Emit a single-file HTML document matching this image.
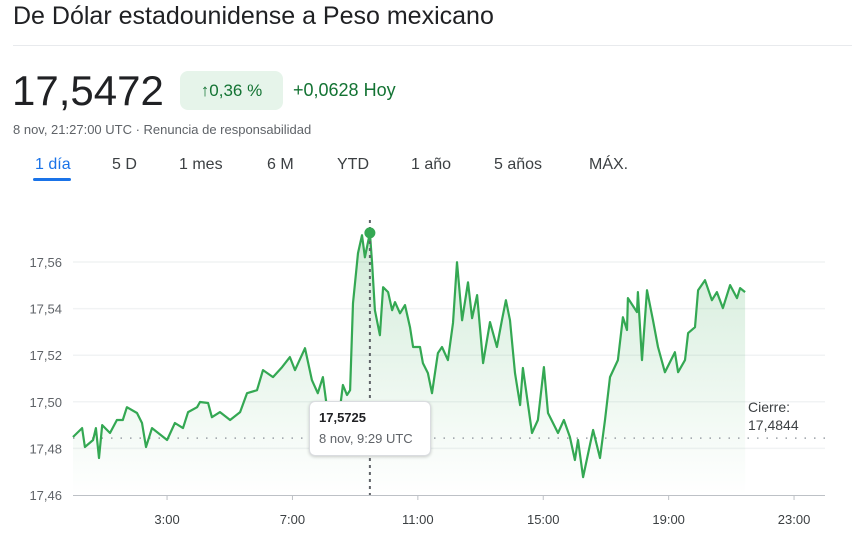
<!DOCTYPE html>
<html><head><meta charset="utf-8"><style>
body{margin:0;width:852px;height:539px;background:#fff;font-family:"Liberation Sans",Arial,sans-serif;color:#202124;overflow:hidden;position:relative}
.a{position:absolute;white-space:nowrap}
.tab{position:absolute;top:156px;font-size:16px;color:#3c4043}
</style></head><body>
<div class="a" style="left:13px;top:2px;font-size:25px">De Dólar estadounidense a Peso mexicano</div>
<div class="a" style="left:13px;top:45px;width:839px;height:1px;background:#e8eaed"></div>
<div class="a" style="left:12px;top:67px;font-size:42px">17,5472</div>
<div class="a" style="left:180px;top:71px;width:103px;height:39px;background:#e6f4ea;border-radius:8px;color:#137333;font-size:17px;line-height:39px;text-align:center">↑0,36 %</div>
<div class="a" style="left:293px;top:80px;font-size:18px;color:#137333">+0,0628 Hoy</div>
<div class="a" style="left:13px;top:122px;font-size:13px;color:#5f6368">8 nov, 21:27:00 UTC · Renuncia de responsabilidad</div>
<div class="tab" style="left:35px;color:#1a73e8">1 día</div>
<div class="a" style="left:33px;top:178px;width:38px;height:3px;background:#1a73e8;border-radius:2px"></div>
<div class="tab" style="left:112px">5 D</div>
<div class="tab" style="left:179px">1 mes</div>
<div class="tab" style="left:267px">6 M</div>
<div class="tab" style="left:337px">YTD</div>
<div class="tab" style="left:411px">1 año</div>
<div class="tab" style="left:494px">5 años</div>
<div class="tab" style="left:589px">MÁX.</div>
<svg id="c" class="a" style="left:0;top:0" width="852" height="539"></svg>
<div class="a" style="left:309px;top:401px;width:120px;height:53px;background:#fff;border:1px solid #dadce0;border-radius:6px;box-shadow:0 1px 3px rgba(0,0,0,.2)">
<div style="position:absolute;left:9px;top:8px;font-size:13px;font-weight:bold">17,5725</div>
<div style="position:absolute;left:9px;top:29px;font-size:13px;color:#5f6368">8 nov, 9:29 UTC</div></div>
<div class="a" style="left:748px;top:398px;font-size:14px;line-height:18px;color:#3c4043">Cierre:<br>17,4844</div>
<script>
const hours=[0,0.29,0.38,0.64,0.73,0.83,0.93,1.18,1.40,1.59,1.72,2.04,2.20,2.33,2.52,3.00,3.25,3.51,3.67,3.96,4.05,4.31,4.43,4.69,5.01,5.33,5.55,5.87,6.06,6.38,6.67,6.92,7.08,7.40,7.62,7.81,7.97,8.10,8.26,8.45,8.61,8.74,8.84,8.93,9.09,9.22,9.31,9.47,9.54,9.63,9.79,9.89,10.05,10.18,10.27,10.43,10.59,10.75,10.85,11.07,11.16,11.32,11.45,11.64,11.77,11.96,12.12,12.25,12.41,12.60,12.73,12.89,13.08,13.30,13.52,13.68,13.81,13.94,14.10,14.26,14.35,14.64,14.83,15.02,15.15,15.47,15.66,15.85,16.01,16.11,16.27,16.59,16.81,16.97,17.13,17.38,17.54,17.67,17.70,17.99,18.02,18.15,18.31,18.50,18.66,18.88,19.04,19.20,19.30,19.52,19.62,19.84,19.94,20.16,20.38,20.54,20.73,20.96,21.18,21.28,21.44];
const values=[17.4849,17.4887,17.4806,17.4836,17.4887,17.4759,17.4900,17.4866,17.4922,17.4922,17.4977,17.4952,17.4909,17.4806,17.4887,17.4836,17.4909,17.4887,17.4956,17.4977,17.4999,17.4995,17.4934,17.4956,17.4922,17.4956,17.5037,17.5050,17.5136,17.5106,17.5149,17.5192,17.5136,17.5230,17.5093,17.5037,17.5106,17.4977,17.4922,17.4900,17.5072,17.5029,17.5050,17.5423,17.5638,17.5715,17.5620,17.5725,17.5595,17.5393,17.5286,17.5492,17.5471,17.5393,17.5428,17.5380,17.5415,17.5320,17.5235,17.5235,17.5166,17.5123,17.5037,17.5209,17.5235,17.5179,17.5338,17.5599,17.5350,17.5513,17.5359,17.5458,17.5166,17.5342,17.5235,17.5350,17.5436,17.5350,17.5123,17.4986,17.5145,17.4866,17.4922,17.5149,17.4952,17.4866,17.4922,17.4849,17.4750,17.4836,17.4677,17.4879,17.4759,17.4922,17.5106,17.5179,17.5363,17.5308,17.5445,17.5385,17.5471,17.5179,17.5479,17.5350,17.5235,17.5127,17.5170,17.5213,17.5127,17.5179,17.5295,17.5320,17.5479,17.5522,17.5436,17.5471,17.5402,17.5501,17.5445,17.5488,17.5471];
const yTicks=[17.46,17.48,17.50,17.52,17.54,17.56];
const yTickLabels=["17,46","17,48","17,50","17,52","17,54","17,56"];
const xTicks=[3,7,11,15,19,23];
const xTickLabels=["3:00","7:00","11:00","15:00","19:00","23:00"];
const prevClose=17.4844;
const selectedIndex=47;
const X=h=>73+h*31.35, Y=v=>495-(v-17.46)*2330;
const svg=document.getElementById('c'),NS='http://www.w3.org/2000/svg';
function mk(t,a,p){const e=document.createElementNS(NS,t);for(const k in a)e.setAttribute(k,a[k]);(p||svg).appendChild(e);return e;}
const defs=mk('defs',{});
const g=mk('linearGradient',{id:'gr',x1:0,y1:0,x2:0,y2:1},defs);
mk('stop',{offset:0,'stop-color':'#34a853','stop-opacity':0.22},g);
mk('stop',{offset:1,'stop-color':'#34a853','stop-opacity':0},g);
yTicks.forEach((t,i)=>{
  if(i>0){const l=mk('line',{x1:73,x2:825,y1:Y(t),y2:Y(t),stroke:'#f1f3f4','stroke-width':1.5});
  }
  const tx=mk('text',{x:62,y:Y(t)+5,'text-anchor':'end','font-size':13,fill:'#5f6368'});
  tx.textContent=yTickLabels[i];
  
});
const ax=mk('line',{x1:73,x2:825,y1:495.5,y2:495.5,stroke:'#bdc1c6'});

xTicks.forEach((t,i)=>{
  const tk=mk('line',{x1:X(t),x2:X(t),y1:495,y2:500,stroke:'#bdc1c6'});
  
  const tx=mk('text',{x:X(t),y:524,'text-anchor':'middle','font-size':13,fill:'#3c4043'});
  tx.textContent=xTickLabels[i];
  
});
let d=hours.map((h,i)=>(i?'L':'M')+X(h).toFixed(1)+','+Y(values[i]).toFixed(1)).join('');
const area=mk('path',{d:d+'L'+X(hours[hours.length-1])+',495L'+X(0)+',495Z',fill:'url(#gr)'});

const pc=mk('line',{x1:73,x2:825,y1:Y(prevClose),y2:Y(prevClose),stroke:'#9aa0a6','stroke-dasharray':'1.5 8','stroke-width':1.5});

const ln=mk('path',{d:d,fill:'none',stroke:'#34a853','stroke-width':2.2,'stroke-linejoin':'round'});

const cx=X(hours[selectedIndex]);
const vl=mk('line',{x1:cx,x2:cx,y1:220,y2:495,stroke:'#5f6368','stroke-dasharray':'3 4','stroke-width':2});

const dot=mk('circle',{cx:cx,cy:Y(values[selectedIndex]),r:5.5,fill:'#34a853'});

</script>
</body></html>
